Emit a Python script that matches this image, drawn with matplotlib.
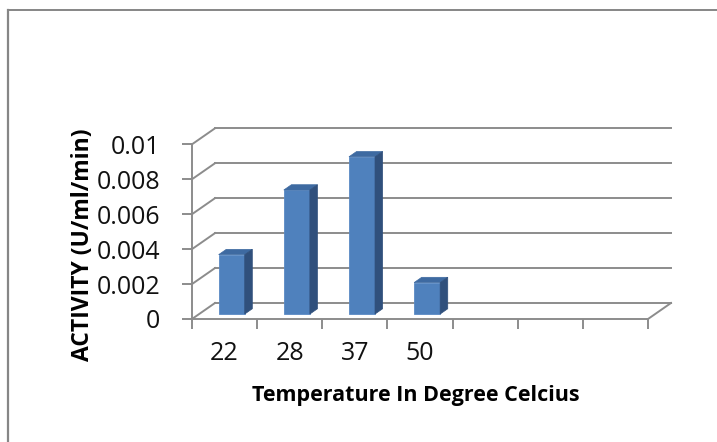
import matplotlib
matplotlib.use("Agg")
import matplotlib.pyplot as plt
from matplotlib.patches import Polygon
from matplotlib.lines import Line2D

# ---- data ----
categories = ["22", "28", "37", "50", "", "", ""]
activity = [0.0034, 0.0071, 0.0090, 0.0018]
yticks = [0, 0.002, 0.004, 0.006, 0.008, 0.01]
ytick_labels = ["0", "0.002", "0.004", "0.006", "0.008", "0.01"]
xlabel = "Temperature In Degree Celcius"
ylabel = "ACTIVITY (U/ml/min)"

# ---- style / geometry ----
W, H = 717, 442
grid_c = "#8c8c8c"
front_c = "#4f81bd"
top_c = "#3e6aa1"
side_c = "#30507c"
FONT = "Open Sans"
DX = 0.353      # depth offset in category units
DY = 0.000916   # depth offset in value units
F0, F1 = 0.31, 0.64  # bar front/back depth fractions
BW = 0.4

fig = plt.figure(figsize=(W / 100, H / 100), dpi=100)
ax = fig.add_axes([192 / W, (H - 319) / H, 456 / W, 174.7 / H])
n = len(categories)
ax.set_xlim(0, n)
ax.set_ylim(0, 0.01)
for s in ax.spines.values():
    s.set_visible(False)

lw = 1.4
# back wall gridlines + side wall diagonals
for y in yticks:
    ax.add_line(Line2D([DX, n + DX], [y + DY, y + DY], color=grid_c, lw=lw, clip_on=False))
    ax.add_line(Line2D([0, DX], [y, y + DY], color=grid_c, lw=lw, clip_on=False))
# front axes
ax.add_line(Line2D([0, 0], [0, 0.01], color=grid_c, lw=lw, clip_on=False))
ax.add_line(Line2D([0, n], [0, 0], color=grid_c, lw=lw, clip_on=False))
ax.add_line(Line2D([n, n + DX], [0, DY], color=grid_c, lw=lw, clip_on=False))

# bars
for i, v in enumerate(activity):
    cx = i + 0.5 + F0 * DX
    b0 = F0 * DY
    ddx = (F1 - F0) * DX
    ddy = (F1 - F0) * DY
    x0, x1 = cx - BW / 2, cx + BW / 2
    ax.bar(cx, v, width=BW, bottom=b0, color=front_c, edgecolor="#5a8ac4",
           linewidth=0.6, zorder=3, clip_on=False)
    top = Polygon([(x0, b0 + v), (x1, b0 + v), (x1 + ddx, b0 + v + ddy), (x0 + ddx, b0 + v + ddy)],
                  closed=True, facecolor=top_c, edgecolor=top_c, lw=0.5, zorder=3, clip_on=False)
    side = Polygon([(x1, b0), (x1 + ddx, b0 + ddy), (x1 + ddx, b0 + v + ddy), (x1, b0 + v)],
                   closed=True, facecolor=side_c, edgecolor=side_c, lw=0.5, zorder=3, clip_on=False)
    ax.add_patch(top)
    ax.add_patch(side)

# ticks
ax.set_yticks(yticks)
ax.set_yticklabels(ytick_labels, fontsize=18, family=FONT)
ax.tick_params(axis="y", length=7, width=lw, color=grid_c, pad=16, labelcolor="#111111")
ax.set_xticks(range(n + 1))
ax.set_xticklabels([])
ax.tick_params(axis="x", which="major", length=7, width=lw, color=grid_c)
ax.set_xticks([i + 0.5 for i in range(n)], minor=True)
ax.set_xticklabels(categories, minor=True, fontsize=18, family=FONT)
ax.tick_params(axis="x", which="minor", length=0, pad=16, labelcolor="#111111")

# titles
fig.text(415.5 / W, 1 - 395 / H, xlabel, ha="center", va="center",
         fontsize=15.5, fontweight="bold", family=FONT)
fig.text(83 / W, 1 - 245 / H, ylabel, ha="center", va="center", rotation=90,
         fontsize=16.5, fontweight="bold", family=FONT)

# outer border (top and left visible)
fig.add_artist(Line2D([8 / W, 1], [1 - 9.5 / H, 1 - 9.5 / H], transform=fig.transFigure,
                      color="#868686", lw=1.4))
fig.add_artist(Line2D([8 / W, 8 / W], [1 - 9.5 / H, 0], transform=fig.transFigure,
                      color="#868686", lw=1.6))

fig.savefig("out.png", dpi=100)
